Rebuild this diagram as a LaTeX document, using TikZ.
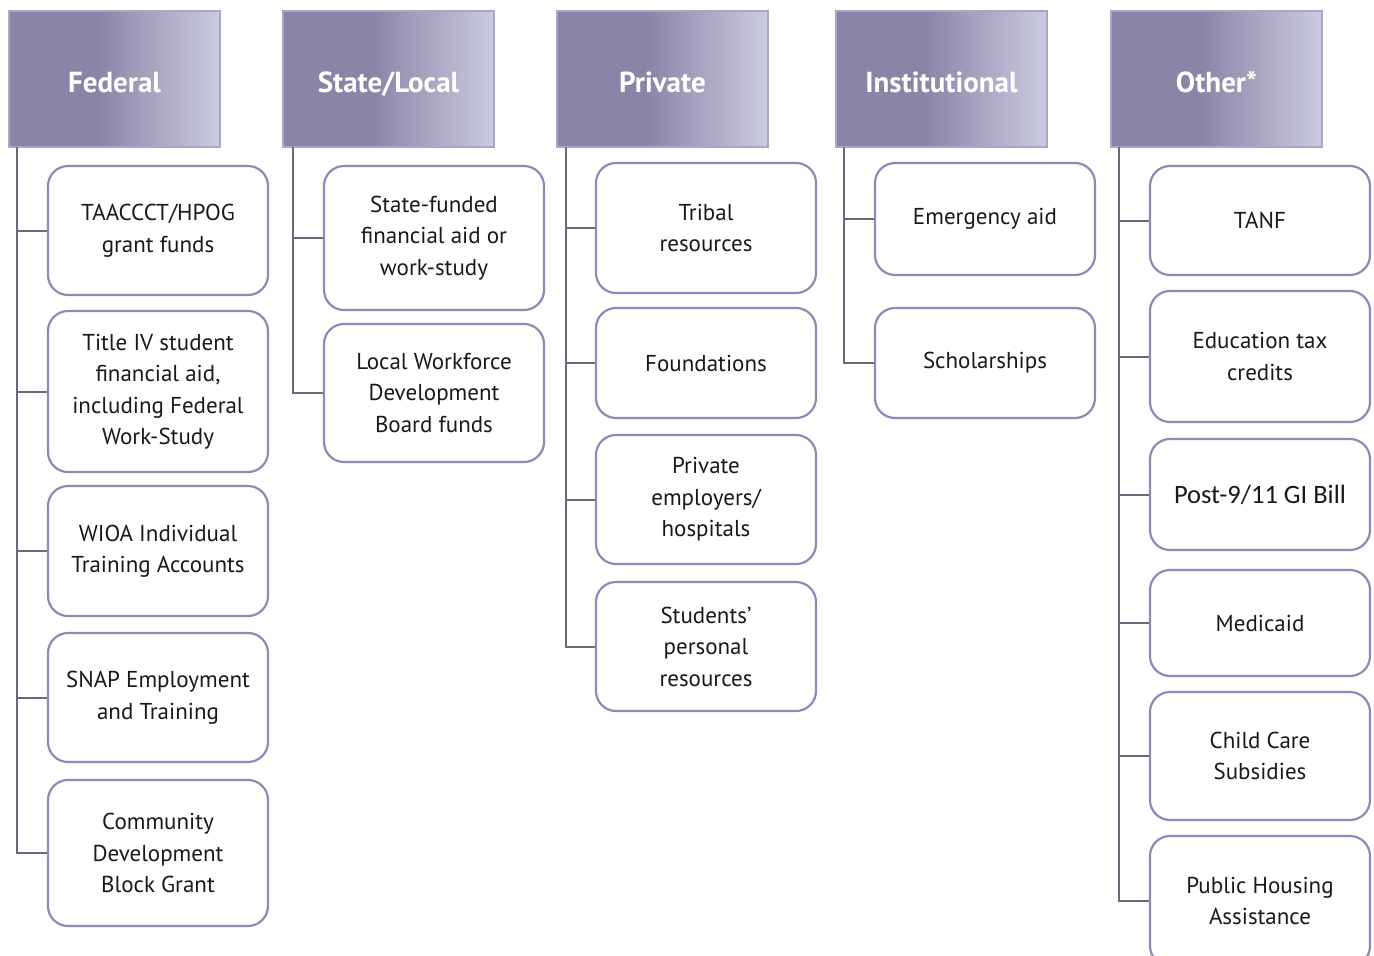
\documentclass[tikz,border=0pt]{standalone}
\usepackage{fontspec}
\setmainfont{PT Sans}
\newfontfamily\calib{Carlito}
\definecolor{hdA}{RGB}{138,132,166}
\definecolor{hdB}{RGB}{203,203,224}
\definecolor{hdBorder}{RGB}{170,166,202}
\definecolor{boxBorder}{RGB}{142,138,182}
\definecolor{trunkC}{RGB}{108,104,124}
\definecolor{txt}{RGB}{25,25,25}
\pgfdeclarehorizontalshading{hdr}{100bp}{color(0bp)=(hdA); color(25bp)=(hdA); color(46bp)=(hdA); color(75bp)=(hdB); color(100bp)=(hdB)}
\tikzset{
  hdrbox/.style={draw=hdBorder, line width=1.5pt, shading=hdr, text=white,
    font=\fontsize{29}{34}\selectfont\bfseries, inner sep=0pt, text height=26pt, text depth=0pt},
  itembox/.style={draw=boxBorder, line width=2.2pt, fill=white, rounded corners=20pt,
    align=center, text=txt, font=\fontsize{23}{31.5}\selectfont, inner sep=0pt},
  trunk/.style={draw=trunkC, line width=2pt}
}
\newcommand{\hd}[4]{\node[hdrbox, minimum width=211pt, minimum height=136pt] (#1) at ({#2+105.5},79) {#4};
  \coordinate (#1T) at ({#3},147);}
\newcommand{\bx}[6]{\node[itembox, minimum width={(#4-#2)*1pt}, minimum height={(#5-#3)*1pt}] (#1) at ({(#2+#4)/2},{(#3+#5)/2}) {#6};}
\begin{document}
\begin{tikzpicture}[x=1pt,y=-1pt]
\useasboundingbox (0,0) rectangle (1374,956);
\clip (0,0) rectangle (1374,956);
% headers
\hd{fed}{9}{17}{Federal}
\hd{sta}{283}{293}{State/Local}
\hd{pri}{557}{566}{Private}
\hd{ins}{836}{844}{Institutional}
\hd{oth}{1111}{1119}{Other*}
% Federal
\bx{f1}{48}{166}{268}{295}{TAACCCT/HPOG\\grant funds}
\bx{f2}{48}{311}{268}{472}{Title IV student\\financial aid,\\including Federal\\Work-Study}
\bx{f3}{48}{486}{268}{616}{WIOA Individual\\Training Accounts}
\bx{f4}{48}{633}{268}{762}{SNAP Employment\\and Training}
\bx{f5}{48}{780}{268}{926}{Community\\Development\\Block Grant}
% State/Local
\bx{s1}{324}{166}{544}{310}{State-funded\\financial aid or\\work-study}
\bx{s2}{324}{324}{544}{462}{Local Workforce\\Development\\Board funds}
% Private
\bx{p1}{596}{163}{816}{293}{Tribal\\resources}
\bx{p2}{596}{308}{816}{418}{Foundations}
\bx{p3}{596}{435}{816}{564}{Private\\employers/\\hospitals}
\bx{p4}{596}{582}{816}{711}{Students’\\personal\\resources}
% Institutional
\bx{i1}{875}{163}{1095}{275}{Emergency aid}
\bx{i2}{875}{308}{1095}{418}{Scholarships}
% Other
\bx{o1}{1150}{166}{1370}{275}{TANF}
\bx{o2}{1150}{291}{1370}{422}{Education tax\\credits}
\bx{o3}{1150}{439}{1370}{550}{{\calib\fontsize{26.5}{31}\selectfont Post-9/11 GI Bill}}
\bx{o4}{1150}{570}{1370}{676}{Medicaid}
\bx{o5}{1150}{692}{1370}{820}{Child Care\\Subsidies}
\bx{o6}{1150}{836}{1370}{966}{Public Housing\\Assistance}
% connectors
\draw[trunk] (fedT) |- (f5.west);
\foreach \n in {f1,f2,f3,f4} \draw[trunk] (fedT |- \n.west) -- (\n.west);
\draw[trunk] (staT) |- (s2.west);
\draw[trunk] (staT |- s1.west) -- (s1.west);
\draw[trunk] (priT) |- (p4.west);
\foreach \n in {p1,p2,p3} \draw[trunk] (priT |- \n.west) -- (\n.west);
\draw[trunk] (insT) |- (i2.west);
\draw[trunk] (insT |- i1.west) -- (i1.west);
\draw[trunk] (othT) |- (o6.west);
\foreach \n in {o1,o2,o3,o4,o5} \draw[trunk] (othT |- \n.west) -- (\n.west);
\end{tikzpicture}
\end{document}
